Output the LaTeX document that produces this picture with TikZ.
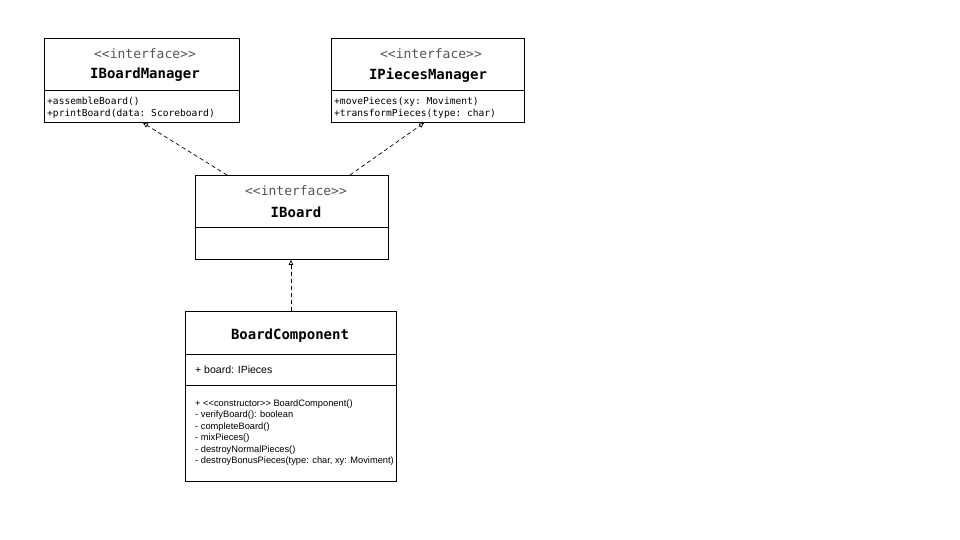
\documentclass[tikz,border=0pt]{standalone}
\usepackage{fontspec}
\setmainfont{Liberation Sans}
\setmonofont{DejaVu Sans Mono}
\usetikzlibrary{arrows.meta,calc}
\definecolor{stereo}{RGB}{85,85,85}
\tikzset{
  box/.style={draw=black, line width=0.9pt, inner sep=0pt, anchor=north west},
  stereotxt/.style={font=\ttfamily\fontsize{13}{13}\selectfont, text=stereo, inner sep=0pt},
  nametxt/.style={font=\ttfamily\bfseries\fontsize{14}{14}\selectfont, inner sep=0pt},
  mtxt/.style={font=\ttfamily\fontsize{9.6}{12.6}\selectfont, inner sep=0pt, anchor=west, align=left},
  stxt/.style={font=\fontsize{9.3}{11.5}\selectfont, inner sep=0pt, anchor=west, align=left},
  attrtxt/.style={font=\fontsize{10.5}{12}\selectfont, inner sep=0pt, anchor=west},
  divider/.style={line width=0.9pt},
  dep/.style={dashed, dash pattern=on 4pt off 3pt, line width=0.7pt, -{Triangle[open,length=5pt,width=4.5pt]}}
}
\begin{document}
\begin{tikzpicture}[x=1pt,y=-1pt]
\useasboundingbox (0,0) rectangle (960,540);
% IBoardManager
\node[box, minimum width=195pt, minimum height=84pt] (ibm) at (44,38) {};
\draw[divider] (44,90) -- (239,90);
\node[stereotxt] (ibms) at (145,54) {<<interface>>};
\node[nametxt] (ibmn) at (145,75) {IBoardManager};
\node[mtxt] (ibmm) at (47,108) {+assembleBoard()\\+printBoard(data: Scoreboard)};
% IPiecesManager
\node[box, minimum width=193pt, minimum height=84pt] (ipm) at (331,38) {};
\draw[divider] (331,90) -- (524,90);
\node[stereotxt] (ipms) at (431,54) {<<interface>>};
\node[nametxt] (ipmn) at (428,75) {IPiecesManager};
\node[mtxt] (ipmm) at (334,108) {+movePieces(xy: Moviment)\\+transformPieces(type: char)};
% IBoard
\node[box, minimum width=193pt, minimum height=84pt] (ib) at (195,175) {};
\draw[divider] (195,227) -- (388,227);
\node[stereotxt] (ibs) at (296,191) {<<interface>>};
\node[nametxt] (ibn) at (296,212) {IBoard};
% BoardComponent
\node[box, minimum width=211pt, minimum height=170pt] (bc) at (185,311) {};
\draw[divider] (185,354) -- (396,354);
\draw[divider] (185,385) -- (396,385);
\node[nametxt] (bcn) at (290,336) {BoardComponent};
\node[attrtxt] (bca) at (195,370) {+ board: IPieces};
\node[stxt] (bcm) at (195,432.5) {+ {<}{<}constructor{>}{>} BoardComponent()\\- verifyBoard(): boolean\\- completeBoard()\\- mixPieces()\\- destroyNormalPieces()\\- destroyBonusPieces(type: char, xy: Moviment)};
% connectors
\coordinate (a1) at ($(ib.north west)+(32,0)$);
\coordinate (a2) at ($(ibm.south west)+(99,0)$);
\coordinate (b1) at ($(ib.north west)+(155,0)$);
\coordinate (b2) at ($(ipm.south west)+(93,0)$);
\coordinate (c1) at ($(bc.north west)+(106,0)$);
\coordinate (c2) at ($(ib.south west)+(96,0)$);
\draw[dep] (a1) -- (a2);
\draw[dep] (b1) -- (b2);
\draw[dep] (c1) -- (c2);
\end{tikzpicture}
\end{document}
